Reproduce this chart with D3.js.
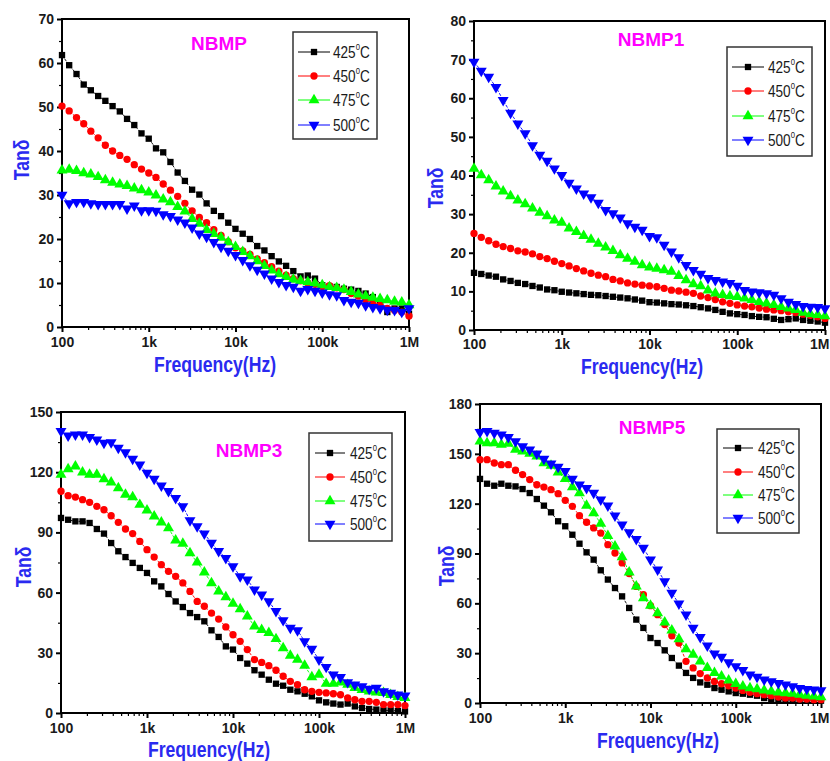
<!DOCTYPE html>
<html>
<head>
<meta charset="utf-8">
<script src="https://cdn.jsdelivr.net/npm/d3@7"></script>
<style>
  html, body { margin: 0; padding: 0; background: #fff; }
  svg { display: block; font-family: "Liberation Sans", Arial, sans-serif; }
</style>
</head>
<body>
<svg id="chart" width="830" height="761"></svg>
<script>
// Measurement frequencies (Hz), 12 points per decade from 100 Hz to 1 MHz
const freq = [100, 121, 147, 178, 215, 261, 316, 383, 464, 562, 681, 825,
  1000, 1212, 1468, 1778, 2154, 2610, 3162, 3831, 4642, 5623, 6813, 8254,
  10000, 12115, 14678, 17783, 21544, 26102, 31623, 38312, 46416, 56234, 68129, 82540,
  100000, 121153, 146780, 177828, 215443, 261016, 316228, 383119, 464159, 562341, 681292, 825404,
  1000000];

const temperatures = ["425", "450", "475", "500"];
const xTickValues = [100, 1e3, 1e4, 1e5, 1e6];
const xTickLabels = ["100", "1k", "10k", "100k", "1M"];

// NBMP
const nbmp_425 = [61.8,59.5,57.5,55.1,53.8,52.5,51.4,50.2,49.0,47.3,45.9,44.0,42.8,40.6,39.7,37.5,35.1,33.2,31.2,30.1,28.1,26.4,25.2,23.7,22.3,21.2,20.0,18.4,17.4,16.1,14.9,13.9,12.7,11.5,11.7,11.0,9.5,9.2,9.1,8.7,8.5,8.2,7.6,6.8,5.7,3.4,4.2,4.2,3.0];
const nbmp_450 = [50.2,49.1,47.6,46.2,44.5,43.0,41.3,40.0,39.0,38.1,36.9,35.9,35.0,34.0,32.5,31.1,29.7,28.1,26.4,24.9,23.7,22.1,20.8,19.4,18.0,17.3,16.5,15.5,14.6,13.7,12.7,11.8,11.0,10.5,10.0,9.7,9.2,9.4,8.9,8.5,7.6,7.0,6.2,5.7,4.9,4.2,3.8,3.4,2.5];
const nbmp_475 = [35.6,35.8,35.5,35.0,34.7,34.1,33.4,32.8,32.4,32.1,31.5,31.1,30.6,29.9,29.0,28.4,27.3,26.3,24.6,23.5,22.1,21.2,20.3,19.3,18.2,17.1,16.1,15.0,13.9,12.9,12.0,11.4,10.8,10.5,10.2,9.9,9.5,9.1,8.9,8.5,8.0,7.4,7.0,6.7,6.4,6.1,5.8,5.6,5.0];
const nbmp_500 = [30.0,28.1,28.4,28.4,28.1,27.9,27.9,27.9,27.9,26.9,27.6,26.5,26.5,26.4,25.6,25.2,24.4,23.7,22.6,21.2,20.5,19.3,18.2,17.3,16.3,15.2,14.0,13.0,12.1,11.0,10.2,9.5,9.1,8.2,8.6,8.2,7.8,7.4,7.2,6.1,5.7,5.5,4.9,4.5,4.2,3.9,3.8,3.4,4.2];

// NBMP1
const nbmp1_425 = [14.8,14.5,14.1,13.8,13.1,12.7,12.2,11.9,11.4,11.0,10.5,10.3,9.9,9.7,9.5,9.3,9.1,9.0,8.8,8.6,8.4,8.2,7.9,7.6,7.2,7.1,6.9,6.7,6.6,6.4,6.2,5.9,5.6,5.2,4.7,4.3,4.1,3.9,3.6,3.4,3.3,2.9,2.6,2.8,3.0,2.6,2.4,2.2,1.9];
const nbmp1_450 = [25.0,24.0,23.1,22.2,21.6,21.1,20.5,20.2,19.7,19.0,18.5,17.8,17.2,16.6,15.9,15.3,14.7,14.2,13.8,13.1,12.7,12.2,11.9,11.6,11.4,11.2,10.8,10.3,10.1,9.8,9.5,8.8,8.4,7.9,7.3,6.9,6.5,6.2,6.0,5.7,5.4,5.2,5.0,4.7,4.5,4.1,3.8,3.4,3.0];
const nbmp1_475 = [41.8,40.1,38.8,37.2,35.9,34.7,33.6,32.6,31.5,30.4,29.5,28.4,27.8,26.3,25.4,24.4,23.4,22.4,21.4,20.5,19.4,18.5,17.7,16.8,16.2,15.9,15.5,15.1,14.0,12.9,11.9,11.4,10.3,9.5,9.1,8.8,8.6,8.2,7.8,7.3,6.9,6.5,6.0,5.6,5.2,4.5,4.1,3.9,3.6];
const nbmp1_500 = [69.4,67.1,65.5,62.9,59.5,56.2,53.4,50.9,47.8,45.3,43.8,41.8,40.1,38.1,36.6,35.3,34.3,32.9,31.0,30.2,29.1,27.6,26.7,25.9,24.3,24.0,22.0,20.3,18.8,16.8,15.5,14.5,13.4,12.9,12.5,12.1,11.4,10.3,9.9,9.7,9.5,9.1,8.2,7.3,6.7,6.2,6.0,5.9,5.6];

// NBMP3
const nbmp3_425 = [97.2,96.3,95.5,95.5,94.7,91.7,89.4,84.7,80.6,77.7,74.8,72.3,69.8,65.6,63.1,59.3,55.6,52.8,49.8,47.8,45.7,41.2,37.9,33.2,31.6,27.4,24.6,21.3,19.1,16.6,14.6,13.6,11.6,10.8,9.6,8.3,6.3,5.3,4.7,4.2,4.7,3.3,2.5,2.0,1.7,1.3,1.3,1.0,0.8];
const nbmp3_450 = [110.5,108.3,107.6,106.3,105.0,103.0,101.3,98.3,95.0,91.7,89.4,85.5,81.4,77.7,73.9,70.6,68.1,64.8,60.6,55.6,53.2,49.8,46.8,42.9,39.0,35.7,31.6,26.6,25.2,23.6,21.3,18.3,15.8,14.1,11.6,10.8,10.3,10.0,9.6,9.1,7.5,6.6,5.8,5.8,5.3,4.2,4.2,4.2,3.7];
const nbmp3_475 = [118.8,121.6,122.9,119.9,118.8,118.8,116.6,114.9,112.1,108.8,107.6,103.8,101.0,98.0,95.0,92.2,86.0,84.4,79.7,75.1,70.1,64.8,60.6,57.8,54.5,51.8,48.2,43.2,41.5,39.9,36.9,32.4,28.6,26.6,23.6,17.9,19.1,14.6,14.6,15.3,14.1,12.5,11.6,10.8,10.3,10.0,9.1,8.0,7.5];
const nbmp3_500 = [140.4,138.2,138.7,138.7,137.5,136.2,134.6,134.9,132.1,129.9,126.6,123.8,119.6,116.6,113.3,110.5,107.1,103.0,96.0,93.0,89.4,84.7,80.6,77.2,73.1,68.1,66.4,61.5,59.0,55.6,50.7,46.2,42.4,41.2,35.7,31.9,26.6,22.9,19.1,17.9,15.3,14.1,13.3,12.0,12.5,10.8,10.0,9.1,8.6];

// NBMP5
const nbmp5_425 = [134.9,132.0,130.8,132.0,130.8,130.4,128.8,126.4,122.8,118.8,114.8,109.4,106.4,101.3,95.9,90.7,86.3,79.9,74.3,69.2,64.2,57.2,50.2,45.2,39.1,36.1,31.7,27.1,22.5,18.1,15.1,12.4,11.0,9.0,8.0,7.0,6.0,5.6,5.0,4.4,3.0,2.4,2.4,2.0,2.0,2.0,1.6,1.6,1.4];
const nbmp5_450 = [146.5,146.5,144.5,143.5,143.5,140.1,137.5,134.5,131.4,130.0,128.4,126.0,122.0,118.4,112.8,108.8,105.4,102.3,95.3,90.3,84.3,77.9,70.2,65.2,58.6,53.2,47.2,40.5,36.1,25.1,21.1,17.7,15.1,13.0,11.6,10.4,9.0,7.6,6.4,5.6,5.0,4.4,3.6,3.0,3.0,2.4,2.4,2.0,2.0];
const nbmp5_475 = [157.5,156.5,156.5,155.5,156.1,152.5,151.5,150.1,148.5,144.5,142.9,138.9,134.9,130.0,126.4,118.8,114.4,108.0,100.7,94.3,87.9,78.7,70.2,63.2,58.6,54.2,48.6,43.8,38.5,32.5,29.1,25.1,21.1,18.1,16.1,13.6,11.6,10.0,9.0,8.4,7.6,7.0,6.4,6.0,5.6,5.0,4.4,4.0,3.6];
const nbmp5_500 = [163.0,163.6,162.6,161.5,160.1,157.5,154.5,152.5,150.1,146.9,144.1,142.1,139.5,134.9,131.4,129.4,126.4,122.4,118.8,112.8,107.4,102.7,98.7,93.3,86.3,80.3,73.2,66.2,59.8,53.2,45.2,39.7,34.5,29.7,27.7,24.5,22.1,19.7,17.1,15.7,14.0,13.0,12.0,11.0,10.0,9.0,8.4,8.0,7.6];

// Panel layout (positions only)
const panels = [
  { title: "NBMP",  series: [nbmp_425, nbmp_450, nbmp_475, nbmp_500],
    yMax: 70, yStep: 10, tickPad: 5,
    box: { l: 62, r: 409, t: 19, b: 327 },
    titlePos: [219, 50], yLab: [21, 160], xLab: [215, 372],
    legend: { x: 293, y: 32, w: 84, h: 107, rows: [52, 76, 100, 125], lx: 298, mx: 314, tx: 333 } },
  { title: "NBMP1", series: [nbmp1_425, nbmp1_450, nbmp1_475, nbmp1_500],
    yMax: 80, yStep: 10, tickPad: 4,
    box: { l: 474, r: 825, t: 21, b: 330 },
    titlePos: [651, 46], yLab: [435, 188], xLab: [642, 374],
    legend: { x: 727, y: 47, w: 85, h: 109, rows: [67, 91, 116, 140], lx: 732, mx: 748, tx: 768 } },
  { title: "NBMP3", series: [nbmp3_425, nbmp3_450, nbmp3_475, nbmp3_500],
    yMax: 150, yStep: 30, tickPad: 5,
    box: { l: 61, r: 405, t: 412, b: 713 },
    titlePos: [249, 457], yLab: [23, 567], xLab: [209, 757],
    legend: { x: 309, y: 433, w: 83, h: 108, rows: [453, 477, 501, 524], lx: 315, mx: 330, tx: 350 } },
  { title: "NBMP5", series: [nbmp5_425, nbmp5_450, nbmp5_475, nbmp5_500],
    yMax: 180, yStep: 30, tickPad: 5,
    box: { l: 480, r: 821, t: 404, b: 703 },
    titlePos: [652, 434], yLab: [446, 566], xLab: [658, 748],
    legend: { x: 717, y: 429, w: 82, h: 104, rows: [448, 472, 495, 518], lx: 723, mx: 738, tx: 758 } }
];

const colors = ["#000000", "#ff0000", "#00ff00", "#0000ff"];
const symbols = [d3.symbolSquare, d3.symbolCircle, d3.symbolTriangle, d3.symbolTriangle];
const symSizes = [40, 42, 52, 52];
const symRotate = [0, 0, 0, 180];
const labelBlue = "#2a2af0";
const condense = 0.8;   // horizontal squeeze for the condensed label lettering
const W = 830;

const svg = d3.select("#chart");

function marker(g, i, x, y) {
  g.append("path")
    .attr("d", d3.symbol().type(symbols[i]).size(symSizes[i])())
    .attr("transform", `translate(${x},${y}) rotate(${symRotate[i]})`)
    .attr("fill", colors[i]);
}

panels.forEach(p => {
  const g = svg.append("g");
  const b = p.box;
  const x = d3.scaleLog().domain([100, 1e6]).range([b.l, b.r]);
  const y = d3.scaleLinear().domain([0, p.yMax]).range([b.b, b.t]);

  // minor ticks
  const xMinor = [];
  for (let d = 100; d < 1e6; d *= 10) for (let k = 2; k <= 9; k++) xMinor.push(d * k);
  const yMinor = d3.range(p.yStep / 2, p.yMax, p.yStep);

  g.append("g").attr("transform", `translate(0,${b.b})`)
    .call(d3.axisBottom(x).tickValues(xMinor).tickSize(3).tickFormat(""))
    .call(s => s.select(".domain").remove())
    .call(s => s.selectAll("line").attr("stroke", "#000").attr("stroke-width", 1.2));
  g.append("g").attr("transform", `translate(${b.l},0)`)
    .call(d3.axisLeft(y).tickValues(yMinor).tickSize(3).tickFormat(""))
    .call(s => s.select(".domain").remove())
    .call(s => s.selectAll("line").attr("stroke", "#000").attr("stroke-width", 1.2));

  // major axes
  const xa = g.append("g").attr("transform", `translate(0,${b.b})`)
    .call(d3.axisBottom(x).tickValues(xTickValues).tickSize(5).tickPadding(p.tickPad)
      .tickFormat((d, i) => xTickLabels[i]));
  xa.select(".domain").remove();
  xa.selectAll("line").attr("stroke", "#000").attr("stroke-width", 2);
  xa.selectAll("text").attr("font-size", 14).attr("font-weight", "bold")
    .attr("fill", "#1a1a1a").attr("font-family", "Liberation Sans, Arial, sans-serif");
  // keep the last label inside the page when the axis ends at its edge
  xa.selectAll("text").each(function(d) {
    const t = d3.select(this);
    const w = this.getComputedTextLength();
    const cx = x(d);
    if (cx + w / 2 > W - 1) t.attr("text-anchor", "end").attr("x", W - 1 - cx);
  });

  const ya = g.append("g").attr("transform", `translate(${b.l},0)`)
    .call(d3.axisLeft(y).tickValues(d3.range(0, p.yMax + 1, p.yStep))
      .tickSize(5).tickPadding(3).tickFormat(d3.format("d")));
  ya.select(".domain").remove();
  ya.selectAll("line").attr("stroke", "#000").attr("stroke-width", 2);
  ya.selectAll("text").attr("font-size", 14).attr("font-weight", "bold")
    .attr("fill", "#1a1a1a").attr("font-family", "Liberation Sans, Arial, sans-serif");

  // frame
  g.append("rect").attr("x", b.l).attr("y", b.t)
    .attr("width", b.r - b.l).attr("height", b.b - b.t)
    .attr("fill", "none").attr("stroke", "#000").attr("stroke-width", 2);

  // series
  p.series.forEach((vals, i) => {
    const pts = freq.map((f, k) => [f, vals[k]]);
    g.append("path")
      .attr("d", d3.line().x(d => x(d[0])).y(d => y(d[1]))(pts))
      .attr("fill", "none").attr("stroke", colors[i]).attr("stroke-width", 0.9)
      .attr("stroke-dasharray", "3,1.5");
    pts.forEach(d => marker(g, i, x(d[0]), y(d[1])));
  });

  // title
  g.append("text").attr("x", p.titlePos[0]).attr("y", p.titlePos[1])
    .attr("text-anchor", "middle").attr("font-size", 19).attr("font-weight", "bold")
    .attr("fill", "#ff00ff").text(p.title);

  // axis labels (condensed lettering)
  g.append("text")
    .attr("transform", `translate(${p.yLab[0] + 8},${p.yLab[1]}) rotate(-90) scale(${condense},1)`)
    .attr("text-anchor", "middle").attr("font-size", 22).attr("font-weight", "bold")
    .attr("fill", labelBlue).text("Tanδ");
  g.append("text")
    .attr("transform", `translate(${p.xLab[0]},${p.xLab[1]}) scale(${condense},1)`)
    .attr("text-anchor", "middle").attr("font-size", 22).attr("font-weight", "bold")
    .attr("fill", labelBlue).text("Frequency(Hz)");

  // legend
  const L = p.legend;
  const lg = g.append("g");
  lg.append("rect").attr("x", L.x).attr("y", L.y).attr("width", L.w).attr("height", L.h)
    .attr("fill", "#fff").attr("stroke", "#333").attr("stroke-width", 1.5);
  temperatures.forEach((t, i) => {
    const ry = L.rows[i];
    lg.append("line").attr("x1", L.lx).attr("x2", L.mx * 2 - L.lx)
      .attr("y1", ry).attr("y2", ry).attr("stroke", colors[i]).attr("stroke-width", 1);
    marker(lg, i, L.mx, ry);
    const tx = lg.append("text")
      .attr("transform", `translate(${L.tx},${ry + 6}) scale(0.85,1)`)
      .attr("font-size", 16).attr("fill", "#1a1a1a");
    tx.append("tspan").text(t);
    tx.append("tspan").attr("font-size", 9).attr("dy", -8).text("0");
    tx.append("tspan").attr("dy", 8).text("C");
  });
});
</script>
</body>
</html>
